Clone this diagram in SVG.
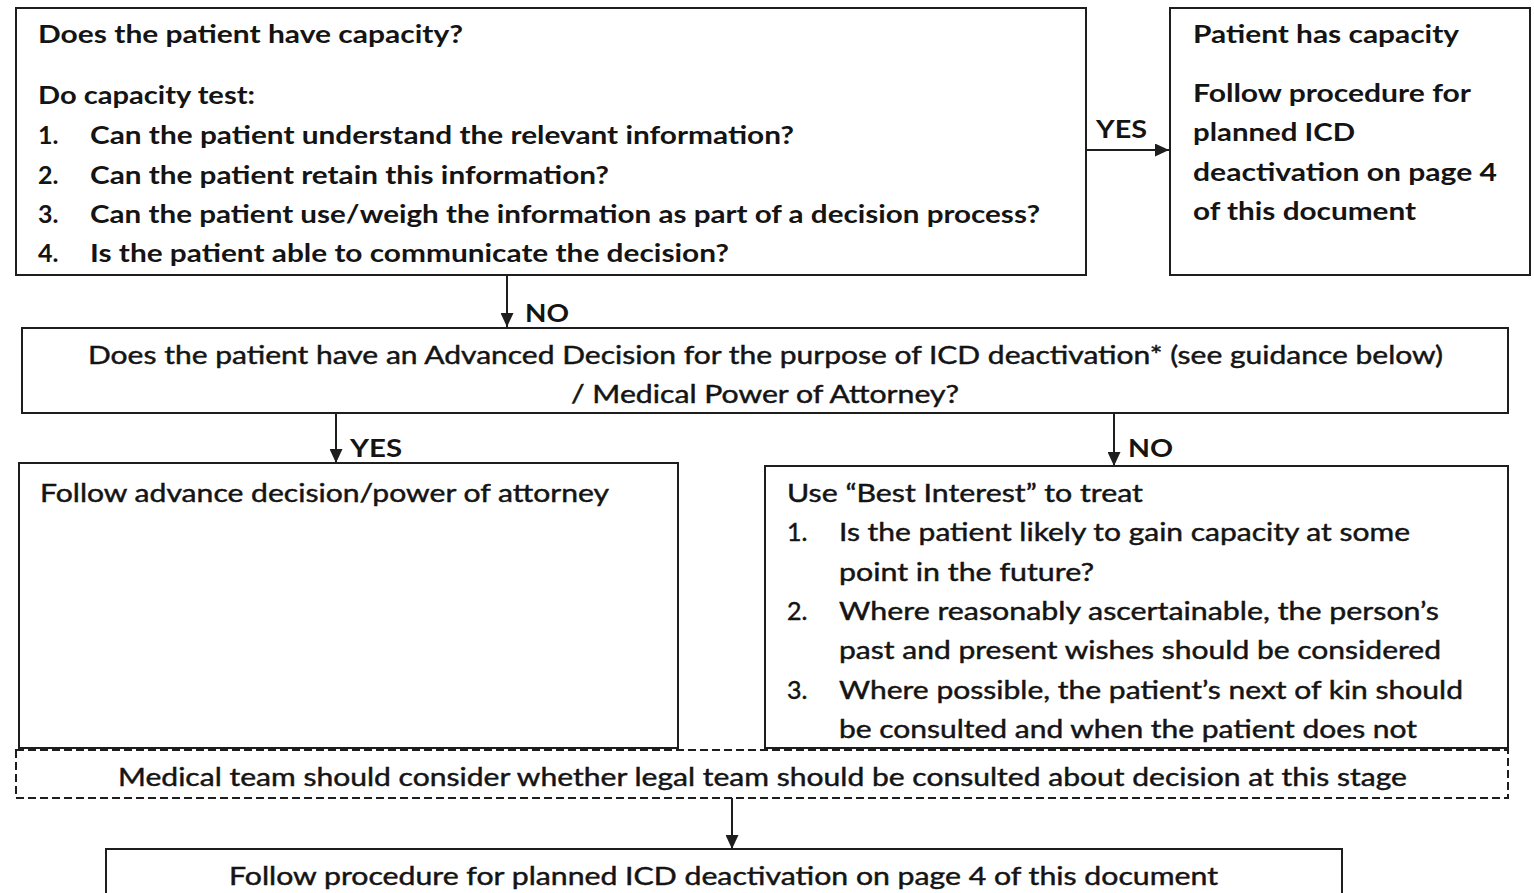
<svg xmlns="http://www.w3.org/2000/svg" width="1534" height="893" viewBox="0 0 1534 893">
<style>
.box{fill:#fff;stroke:#1e1e1e;stroke-width:2}
.dash{fill:#fff;stroke:#1e1e1e;stroke-width:2;stroke-dasharray:8 4}
.edge{stroke:#1e1e1e;stroke-width:2;fill:none}
text{font-family:Lato,"Open Sans","Liberation Sans",sans-serif;font-size:25px;fill:#141414}
.b{font-weight:bold}
.r{font-weight:normal;stroke:#141414;stroke-width:0.45}
.lbl{font-weight:bold}
</style>
<defs>
<marker id="ah" markerUnits="userSpaceOnUse" markerWidth="14" markerHeight="13" refX="14" refY="6.5" orient="auto">
<path d="M0,0 L14,6.5 L0,13 z" fill="#1e1e1e"/>
</marker>
</defs>
<rect width="1534" height="893" fill="#fff"/>

<g id="connectors">
<line class="edge" x1="1086" y1="150" x2="1169" y2="150" marker-end="url(#ah)"/>
<text class="lbl" x="1096" y="138" textLength="51" lengthAdjust="spacingAndGlyphs">YES</text>
<line class="edge" x1="507" y1="275" x2="507" y2="327" marker-end="url(#ah)"/>
<text class="lbl" x="525" y="322" textLength="44" lengthAdjust="spacingAndGlyphs">NO</text>
<line class="edge" x1="336" y1="413" x2="336" y2="463" marker-end="url(#ah)"/>
<text class="lbl" x="350" y="457" textLength="52" lengthAdjust="spacingAndGlyphs">YES</text>
<line class="edge" x1="1114" y1="413" x2="1114" y2="466" marker-end="url(#ah)"/>
<text class="lbl" x="1128" y="457" textLength="45" lengthAdjust="spacingAndGlyphs">NO</text>
<line class="edge" x1="732" y1="798" x2="732" y2="849" marker-end="url(#ah)"/>
</g>

<g id="capacity">
<rect class="box" x="16" y="8" width="1070" height="267"/>
<text class="b" x="38" y="43" textLength="425" lengthAdjust="spacingAndGlyphs">Does the patient have capacity?</text>
<text class="b" x="38" y="104" textLength="217" lengthAdjust="spacingAndGlyphs">Do capacity test:</text>
<text class="b" x="38" y="144">1.</text>
<text class="b" x="90" y="144" textLength="704" lengthAdjust="spacingAndGlyphs">Can the patient understand the relevant information?</text>
<text class="b" x="38" y="184">2.</text>
<text class="b" x="90" y="184" textLength="519" lengthAdjust="spacingAndGlyphs">Can the patient retain this information?</text>
<text class="b" x="38" y="223">3.</text>
<text class="b" x="90" y="223" textLength="950" lengthAdjust="spacingAndGlyphs">Can the patient use/weigh the information as part of a decision process?</text>
<text class="b" x="38" y="262">4.</text>
<text class="b" x="90" y="262" textLength="639" lengthAdjust="spacingAndGlyphs">Is the patient able to communicate the decision?</text>
</g>

<g id="has-capacity">
<rect class="box" x="1170" y="8" width="360" height="267"/>
<text class="b" x="1193" y="43" textLength="266" lengthAdjust="spacingAndGlyphs">Patient has capacity</text>
<text class="b" x="1193" y="102" textLength="278" lengthAdjust="spacingAndGlyphs">Follow procedure for</text>
<text class="b" x="1193" y="141" textLength="162" lengthAdjust="spacingAndGlyphs">planned ICD</text>
<text class="b" x="1193" y="181" textLength="304" lengthAdjust="spacingAndGlyphs">deactivation on page 4</text>
<text class="b" x="1193" y="220" textLength="223" lengthAdjust="spacingAndGlyphs">of this document</text>
</g>

<g id="advanced-decision">
<rect class="box" x="22" y="328" width="1486" height="85"/>
<text class="r" x="88" y="364" textLength="1355" lengthAdjust="spacingAndGlyphs">Does the patient have an Advanced Decision for the purpose of ICD deactivation* (see guidance below)</text>
<text class="r" x="571" y="403" textLength="388" lengthAdjust="spacingAndGlyphs">/ Medical Power of Attorney?</text>
</g>

<g id="follow-advance">
<rect class="box" x="19" y="463" width="659" height="285"/>
<text class="r" x="40" y="502" textLength="569" lengthAdjust="spacingAndGlyphs">Follow advance decision/power of attorney</text>
</g>

<g id="best-interest">
<rect class="box" x="765" y="466" width="743" height="282"/>
<text class="r" x="787" y="502" textLength="356" lengthAdjust="spacingAndGlyphs">Use “Best Interest” to treat</text>
<text class="r" x="787" y="541">1.</text>
<text class="r" x="839" y="541" textLength="571" lengthAdjust="spacingAndGlyphs">Is the patient likely to gain capacity at some</text>
<text class="r" x="839" y="581" textLength="255" lengthAdjust="spacingAndGlyphs">point in the future?</text>
<text class="r" x="787" y="620">2.</text>
<text class="r" x="839" y="620" textLength="600" lengthAdjust="spacingAndGlyphs">Where reasonably ascertainable, the person’s</text>
<text class="r" x="839" y="659" textLength="602" lengthAdjust="spacingAndGlyphs">past and present wishes should be considered</text>
<text class="r" x="787" y="699">3.</text>
<text class="r" x="839" y="699" textLength="624" lengthAdjust="spacingAndGlyphs">Where possible, the patient’s next of kin should</text>
<text class="r" x="839" y="738" textLength="578" lengthAdjust="spacingAndGlyphs">be consulted and when the patient does not</text>
</g>

<g id="legal-team">
<rect class="dash" x="16" y="750" width="1492" height="48"/>
<text class="r" x="118" y="786" textLength="1289" lengthAdjust="spacingAndGlyphs">Medical team should consider whether legal team should be consulted about decision at this stage</text>
</g>

<g id="planned-deactivation">
<rect class="box" x="106" y="849" width="1236" height="60"/>
<text class="r" x="229" y="885" textLength="989" lengthAdjust="spacingAndGlyphs">Follow procedure for planned ICD deactivation on page 4 of this document</text>
</g>
</svg>
